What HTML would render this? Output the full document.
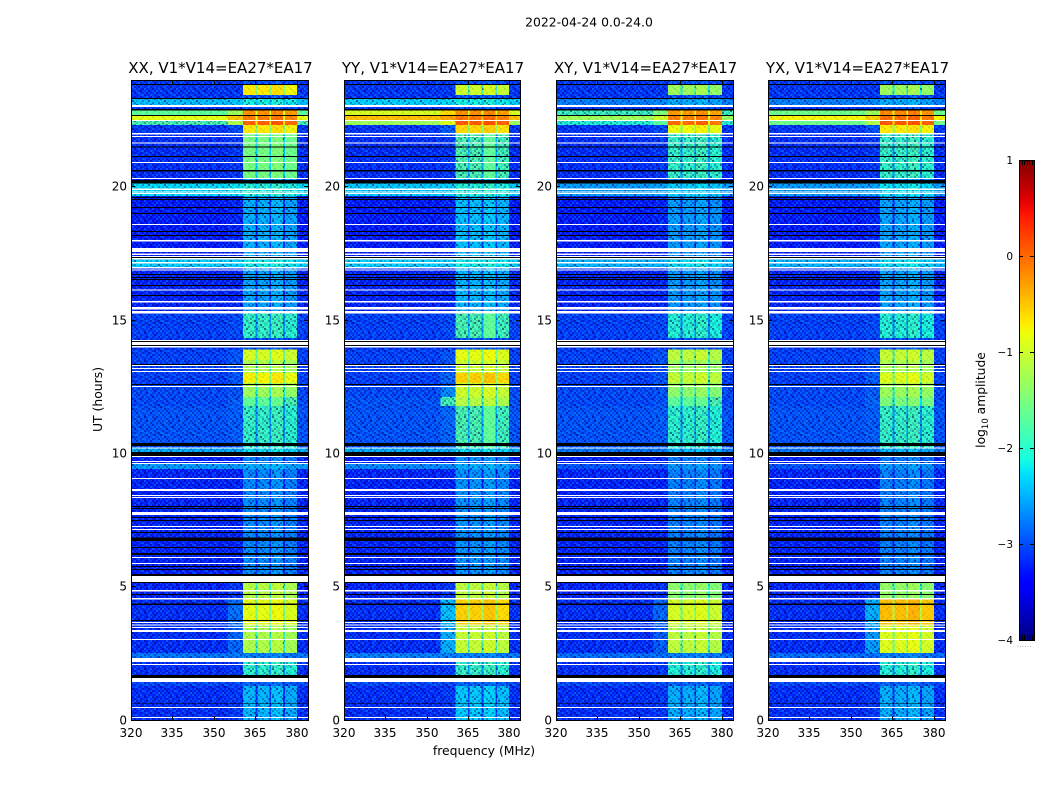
<!DOCTYPE html>
<html lang="en">
<head>
<meta charset="utf-8">
<title>2022-04-24 0.0-24.0 amplitude dynamic spectra</title>
<style>
html,body{margin:0;padding:0;background:#fff;}
svg{display:block;font-family:"DejaVu Sans","Liberation Sans",sans-serif;}
</style>
</head>
<body>
<svg id="figure" xmlns="http://www.w3.org/2000/svg" width="1050" height="800" viewBox="0 0 1050 800">
  <rect x="0" y="0" width="1050" height="800" fill="#ffffff"/>
  <text x="589" y="26.5" font-size="12.4" text-anchor="middle" fill="#000">2022-04-24 0.0-24.0</text>
  <text x="484" y="755" font-size="12.4" text-anchor="middle" fill="#000">frequency (MHz)</text>
  <text transform="translate(102,399.5) rotate(-90)" font-size="12.4" text-anchor="middle" fill="#000">UT (hours)</text>
  <text transform="translate(985,400) rotate(-90)" font-size="12.3" text-anchor="middle" fill="#000">log<tspan font-size="8.5" dy="3">10</tspan><tspan dy="-3"> amplitude</tspan></text>
  <text x="1017" y="647" font-size="6" fill="#666" letter-spacing="0.6">......</text>
</svg>
<script>
// ---------- categories and tick labels ----------
const panelTitles = ["XX, V1*V14=EA27*EA17", "YY, V1*V14=EA27*EA17", "XY, V1*V14=EA27*EA17", "YX, V1*V14=EA27*EA17"];
const freqTicks = [320, 335, 350, 365, 380];
const hourTicks = [0, 5, 10, 15, 20];
const colorTicks = [1, 0, -1, -2, -3, -4];

// ---------- frequency segments (MHz edges and the kind of each segment) ----------
const freqEdges = [320, 355, 360.5, 365, 365.7, 370, 370.7, 375, 375.7, 380, 384];
const freqKinds = ["off", "trans", "on", "gap", "on", "gap", "on", "gap", "on", "off"];
const onBandGain = [0.0, 0.0, 0.06, -0.06];

// ---------- time rows: top edge in hours, and the state active until the next edge ----------
const W = -1, K = -2; // W = flagged (white), K = zero amplitude (black)
const rowTopHours = [
24.00,23.85,23.81,23.44,23.33,23.29,23.06,22.99,22.91,22.86,22.69,22.65,22.50,22.46,22.31,22.01,21.96,21.90,21.86,21.66,
21.62,21.51,21.47,21.15,21.11,20.93,20.89,20.63,20.57,20.33,20.29,20.25,20.12,19.93,19.88,19.82,19.78,19.76,19.73,19.65,
19.61,19.57,19.54,19.50,19.24,19.20,19.01,18.98,18.60,18.56,18.34,18.30,18.19,18.15,18.00,17.94,17.70,17.55,17.49,17.44,
17.40,17.36,17.33,17.27,17.18,17.12,16.99,16.93,16.89,16.86,16.72,16.69,16.61,16.57,16.54,16.50,16.31,16.27,16.14,16.10,
15.94,15.90,15.71,15.66,15.49,15.39,15.34,15.24,14.32,14.25,14.21,14.18,14.06,14.03,13.97,13.89,13.50,13.35,13.31,13.28,
13.20,13.16,13.09,13.05,13.01,12.64,12.60,12.56,12.53,12.49,12.11,11.78,10.39,10.28,10.22,10.18,10.05,9.90,9.86,9.71,
9.67,9.64,9.60,9.41,9.08,9.04,8.66,8.59,8.44,8.40,8.36,8.33,8.03,7.99,7.95,7.91,7.80,7.69,7.61,7.58,
7.50,7.46,7.28,7.24,7.16,7.13,7.05,7.01,6.85,6.71,6.49,6.45,6.26,6.19,6.11,6.08,5.89,5.85,5.78,5.74,
5.66,5.63,5.48,5.40,5.18,5.14,4.88,4.82,4.73,4.69,4.58,4.52,4.37,4.31,3.75,3.71,3.68,3.64,3.58,3.54,
3.49,3.45,3.38,3.30,3.04,3.00,2.51,2.33,2.18,2.10,2.06,1.69,1.58,1.43,1.28,0.64,0.62,0.49,0.45,0.11,
0.08];
const rowStates = [
1,K,0,1,K,2,W,1,K,3,K,4,W,5,6,W,7,W,7,W,
7,K,7,K,7,W,7,K,7,W,9,K,8,W,8,W,8,W,8,9,
K,9,K,9,K,9,K,9,W,9,K,9,K,9,W,9,W,9,W,9,
W,K,W,10,W,10,W,11,W,11,K,11,K,11,K,11,K,11,W,11,
K,11,W,11,W,11,W,12,1,W,K,W,K,W,1,13,14,K,W,14,
W,14,W,14,15,14,K,14,W,16,17,18,K,18,W,19,K,W,21,W,
21,W,20,21,W,21,W,21,W,21,W,21,K,21,K,21,W,21,K,21,
K,21,W,21,W,21,K,21,K,21,K,21,K,21,W,21,W,21,K,21,
K,21,K,W,K,22,W,22,K,22,W,23,K,23,K,23,W,23,W,24,
W,24,W,24,W,24,25,W,26,W,26,K,W,27,28,K,28,W,28,W,
28];

// ---------- log10 amplitude read per state (index = state id in rowStates) ----------
const xxOff   = [-3.15,-3.15,-2.4,-1.7,-0.85,-1.75,-3.15,-3.2,-2.25,-3.3,-2.3,-3.25,-3.1,-3.1,-3.1,-3.1,-3.05,-3.05,-3.0,-2.5,-2.6,-3.25,-3.25,-3.2,-3.2,-2.8,-3.2,-3.05,-3.2];
const yyOff   = [-3.15,-3.15,-2.3,-0.95,-0.45,-1.3,-3.15,-3.2,-2.35,-3.3,-2.3,-3.25,-3.1,-3.1,-3.1,-3.1,-3.05,-3.0,-3.0,-2.5,-2.7,-3.25,-3.25,-3.2,-3.2,-2.75,-3.2,-3.05,-3.2];
const xyOff   = [-3.15,-3.15,-2.75,-1.85,-1.3,-2.0,-3.15,-3.2,-2.6,-3.3,-2.45,-3.25,-3.1,-3.1,-3.1,-3.1,-3.05,-3.05,-3.0,-2.8,-3.0,-3.25,-3.25,-3.2,-3.2,-2.85,-3.2,-3.05,-3.2];
const yxOff   = [-3.15,-3.15,-2.75,-1.6,-0.75,-1.6,-3.15,-3.2,-2.6,-3.3,-2.45,-3.25,-3.1,-3.1,-3.1,-3.1,-3.05,-3.05,-3.0,-2.8,-3.0,-3.25,-3.25,-3.2,-3.2,-2.85,-3.2,-3.05,-3.2];

const xxTrans = [-3.15,-3.15,-2.35,-1.3,-0.5,-1.2,-3.05,-3.15,-2.2,-3.25,-2.3,-3.25,-3.05,-3.0,-3.0,-3.0,-3.0,-2.95,-2.95,-2.5,-2.6,-3.25,-3.15,-2.85,-2.9,-2.8,-3.15,-3.05,-3.15];
const yyTrans = [-3.15,-3.15,-2.25,-0.6,-0.3,-0.9,-2.95,-3.15,-2.3,-3.25,-2.3,-3.25,-3.05,-3.0,-3.0,-2.9,-2.7,-1.8,-2.9,-2.5,-2.7,-3.25,-3.15,-2.4,-2.5,-2.75,-3.15,-3.05,-3.15];
const xyTrans = [-3.15,-3.15,-2.7,-1.5,-1.0,-1.7,-3.05,-3.15,-2.55,-3.25,-2.45,-3.25,-3.05,-3.0,-3.0,-3.0,-3.0,-3.0,-2.95,-2.8,-3.0,-3.25,-3.2,-2.9,-2.95,-2.85,-3.15,-3.05,-3.15];
const yxTrans = [-3.15,-3.15,-2.7,-1.3,-0.55,-1.2,-3.0,-3.15,-2.55,-3.25,-2.45,-3.25,-3.05,-3.0,-3.0,-2.95,-2.95,-2.9,-2.95,-2.8,-3.0,-3.25,-3.15,-2.5,-2.6,-2.85,-3.15,-3.05,-3.15];

const xxOn    = [-0.7,-3.0,-2.1,-0.2,-0.1,0.05,-0.7,-1.55,-2.0,-2.5,-2.1,-2.55,-1.9,-0.95,-1.2,-0.75,-1.3,-1.7,-1.9,-2.2,-2.5,-2.7,-1.15,-0.85,-1.2,-2.75,-1.95,-2.9,-2.45];
const yyOn    = [-1.0,-3.0,-2.1,-0.2,-0.05,0.1,-0.6,-1.75,-2.0,-2.4,-2.1,-2.45,-1.75,-0.85,-1.0,-0.55,-1.0,-1.15,-1.75,-2.2,-2.5,-2.65,-1.1,-0.55,-1.05,-2.75,-1.9,-2.9,-2.35];
const xyOn    = [-1.3,-3.0,-2.5,-0.25,-0.1,0.0,-0.8,-1.9,-2.3,-2.6,-2.2,-2.6,-2.0,-1.1,-1.3,-1.05,-1.4,-1.7,-1.95,-2.4,-2.6,-2.75,-1.4,-0.95,-1.1,-2.75,-2.0,-2.9,-2.5];
const yxOn    = [-1.3,-3.0,-2.5,-0.15,0.0,0.1,-0.7,-1.9,-2.2,-2.55,-2.2,-2.55,-2.0,-1.05,-1.2,-0.9,-1.3,-1.5,-1.9,-2.4,-2.6,-2.75,-1.35,-0.45,-0.9,-2.75,-2.0,-2.9,-2.5];

const panelOff = [xxOff, yyOff, xyOff, yxOff];
const panelTrans = [xxTrans, yyTrans, xyTrans, yxTrans];
const panelOn = [xxOn, yyOn, xyOn, yxOn];

// ---------- receiver noise tile: lighter (+) or darker (-) channel/time bins ----------
const speckleRows = [
[ 2,-1, 0, 3,-2, 1,-1, 2, 0,-3, 1, 2,-1, 0, 2,-2],
[-2, 1, 3,-1, 0,-3, 2, 0,-1, 1, 3,-2, 0, 2,-1, 1],
[ 0,-3, 1, 2,-1, 2, 0,-2, 3,-1, 0, 1,-3, 1, 0, 2],
[ 3, 1,-2, 0, 2,-1,-3, 1, 0, 2,-2, 0, 2,-1, 3,-1],
[-1, 0, 2,-3, 1, 3, 0,-1, 2,-2, 1,-1, 0, 3,-2, 0],
[ 1,-2, 0, 1,-1, 0, 2, 3,-2, 0,-1, 3, 1,-2, 0, 2],
[ 2, 3,-1,-2, 0, 1,-2, 0, 1, 3, 0,-2, 2, 0,-1,-3],
[-3, 0, 1, 2, 3,-1, 0, 2,-1,-2, 2, 1,-1,-3, 2, 0],
[ 0, 2,-3, 0,-1, 2, 1,-2, 0, 1,-3, 0, 3, 1,-1, 2],
[ 1,-1, 2,-2, 1, 0,-1, 3, 2,-1, 0, 2,-2, 0, 1,-2],
[-2, 3, 0, 1,-3, 2, 0,-1, 1, 0, 2,-3, 1, 2, 0, 3],
[ 3,-2, 1, 0, 2,-1, 3, 0,-2, 2,-1, 0, 0,-1, 3,-1],
[ 0, 1,-1, 3, 0,-2, 1, 2,-3, 0, 1, 3,-2, 1,-2, 0],
[-1, 2, 0,-2, 1, 3,-2, 0, 1,-1, 3, 0, 1,-3, 0, 2]
];

// ---------- layout (not data) ----------
const SVGNS = "http://www.w3.org/2000/svg";
const plotTop = 80, plotBottom = 720;
const panelLeft = [131, 344, 556, 768];
const panelRight = [308, 520, 733, 945];
const panelIds = ["xx", "yy", "xy", "yx"];
const freqMin = 320, freqMax = 384, hourMin = 0, hourMax = 24;
const cbarLeft = 1019, cbarWidth = 15, cbarTop = 160, cbarBottom = 640, colorMin = -4, colorMax = 1;
const noisyBelow = -1.7;

function xScale(panel, mhz) { return panelLeft[panel] + (mhz - freqMin) / (freqMax - freqMin) * (panelRight[panel] - panelLeft[panel]); }
function yScale(hour) { return plotBottom - (hour - hourMin) / (hourMax - hourMin) * (plotBottom - plotTop); }
function colorY(v) { return cbarBottom - (v - colorMin) / (colorMax - colorMin) * (cbarBottom - cbarTop); }

function ramp(points, t) {
  for (let i = 1; i < points.length; i++) {
    if (t <= points[i][0]) {
      const a = points[i - 1], b = points[i];
      return a[1] + (b[1] - a[1]) * (t - a[0]) / (b[0] - a[0]);
    }
  }
  return points[points.length - 1][1];
}
const jetR = [[0,0],[0.35,0],[0.66,1],[0.89,1],[1,0.5]];
const jetG = [[0,0],[0.125,0],[0.375,1],[0.64,1],[0.91,0],[1,0]];
const jetB = [[0,0.5],[0.11,1],[0.34,1],[0.65,0],[1,0]];
function jet(v) {
  const t = Math.max(0, Math.min(1, (v - colorMin) / (colorMax - colorMin)));
  return "rgb(" + Math.round(ramp(jetR, t) * 255) + "," + Math.round(ramp(jetG, t) * 255) + "," + Math.round(ramp(jetB, t) * 255) + ")";
}

function make(parent, tag, attrs, text) {
  const el = document.createElementNS(SVGNS, tag);
  for (const k in attrs) el.setAttribute(k, attrs[k]);
  if (text !== undefined) el.textContent = text;
  parent.appendChild(el);
  return el;
}
const root = document.getElementById("figure");
const defs = make(root, "defs", {});

// noise patterns built from speckleRows
const cellPx = 2;
function buildSpeckle(id, lightColor, lightAlpha, darkColor, darkAlpha) {
  const pat = make(defs, "pattern", {
    id: id, patternUnits: "userSpaceOnUse",
    width: speckleRows[0].length * cellPx, height: speckleRows.length * cellPx
  });
  speckleRows.forEach(function (row, r) {
    row.forEach(function (v, c) {
      if (v === 0) return;
      make(pat, "rect", {
        x: c * cellPx, y: r * cellPx, width: cellPx, height: cellPx, "shape-rendering": "crispEdges",
        fill: v > 0 ? lightColor : darkColor,
        opacity: Math.abs(v) * (v > 0 ? lightAlpha : darkAlpha)
      });
    });
  });
}
buildSpeckle("speckle", "#00a8ff", 0.13, "#000060", 0.18);
buildSpeckle("speckle-soft", "#ffff60", 0.03, "#002040", 0.04);

function levelFor(panel, state, kind, band) {
  const off = panelOff[panel][state];
  const on = panelOn[panel][state] + onBandGain[band];
  if (kind === "off") return off;
  if (kind === "trans") return panelTrans[panel][state];
  if (kind === "gap") return Math.max(off, panelOn[panel][state] - 0.75);
  return on;
}
function boxPath(x, y, w, h) {
  return "M" + x.toFixed(2) + " " + y.toFixed(2) + "h" + w.toFixed(2) + "v" + h.toFixed(2) + "h" + (-w).toFixed(2) + "z";
}

// ---------- panels ----------
panelTitles.forEach(function (title, p) {
  const id = panelIds[p];
  const left = panelLeft[p], right = panelRight[p];
  const g = make(root, "g", {});
  
  

  const cells = make(g, "g", { "shape-rendering": "crispEdges" });
  
  

  let strongNoise = "", softNoise = "";
  rowStates.forEach(function (state, r) {
    if (state < 0) return;
    const top = yScale(rowTopHours[r]);
    const bottom = yScale(r + 1 < rowTopHours.length ? rowTopHours[r + 1] : hourMin);
    let band = 0;
    freqKinds.forEach(function (kind, s) {
      const x0 = xScale(p, freqEdges[s]), x1 = xScale(p, freqEdges[s + 1]);
      const level = levelFor(p, state, kind, Math.min(band, onBandGain.length - 1));
      const cell = make(cells, "rect", {
        x: x0.toFixed(2), y: top.toFixed(2),
        width: (x1 - x0).toFixed(2), height: (bottom - top).toFixed(2),
        fill: jet(level)
      });
      
      
      if (level < noisyBelow) strongNoise += boxPath(x0, top, x1 - x0, bottom - top);
      else softNoise += boxPath(x0, top, x1 - x0, bottom - top);
      if (kind === "on") band++;
    });
  });

  const noiseStrong = make(g, "path", { d: strongNoise, fill: "url(#speckle)", "shape-rendering": "crispEdges" });
  
  
  const noiseSoft = make(g, "path", { d: softNoise, fill: "url(#speckle-soft)", "shape-rendering": "crispEdges" });
  
  

  const flags = make(g, "g", { "shape-rendering": "crispEdges" });
  
  
  rowStates.forEach(function (state, r) {
    if (state >= 0) return;
    const top = yScale(rowTopHours[r]);
    const bottom = yScale(r + 1 < rowTopHours.length ? rowTopHours[r + 1] : hourMin);
    const flag = make(flags, "rect", {
      x: left, y: top.toFixed(2), width: right - left, height: (bottom - top).toFixed(2),
      fill: state === W ? "#ffffff" : "#000000"
    });
    
    
  });

  // frame
  const frame = make(g, "rect", {
    x: left + 0.5, y: plotTop + 0.5, width: right - left, height: plotBottom - plotTop,
    fill: "none", stroke: "#000", "stroke-width": 1, "shape-rendering": "crispEdges"
  });
  
  

  const titleEl = make(g, "text", {
    x: (left + right) / 2 + 1, y: 73, "font-size": 15, "text-anchor": "middle", fill: "#000"
  }, title);
  
  

  // x ticks
  freqTicks.forEach(function (f) {
    const x = Math.round(xScale(p, f)) + 0.5;
    const tick = make(g, "path", {
      d: "M" + x + " " + plotBottom + "v-4M" + x + " " + plotTop + "v4",
      stroke: "#000", "stroke-width": 1, fill: "none", "shape-rendering": "crispEdges"
    });
    
    
    const label = make(g, "text", { x: x - 0.5, y: 737, "font-size": 12, "text-anchor": "middle", fill: "#000" }, String(f));
    
    
  });

  // y ticks
  hourTicks.forEach(function (h) {
    const y = Math.floor(yScale(h)) + 0.5;
    const tick = make(g, "path", {
      d: "M" + left + " " + y + "h4M" + right + " " + y + "h-4",
      stroke: "#000", "stroke-width": 1, fill: "none", "shape-rendering": "crispEdges"
    });
    
    
    const label = make(g, "text", { x: left - 4, y: y + 4, "font-size": 12, "text-anchor": "end", fill: "#000" }, String(h));
    
    
  });
});

// ---------- colorbar ----------
const grad = make(defs, "linearGradient", { id: "jet-gradient", x1: 0, y1: 1, x2: 0, y2: 0 });
for (let i = 0; i <= 50; i++) {
  make(grad, "stop", { offset: (i / 50), "stop-color": jet(colorMin + (colorMax - colorMin) * i / 50) });
}
const cbar = make(root, "g", {});



const cbarFill = make(cbar, "rect", { x: cbarLeft, y: cbarTop, width: cbarWidth, height: cbarBottom - cbarTop, fill: "url(#jet-gradient)" });



const cbarFrame = make(cbar, "rect", {
  x: cbarLeft + 0.5, y: cbarTop + 0.5, width: cbarWidth, height: cbarBottom - cbarTop,
  fill: "none", stroke: "#000", "stroke-width": 1, "shape-rendering": "crispEdges"
});



colorTicks.forEach(function (v) {
  const y = Math.round(colorY(v)) + 0.5;
  const tick = make(cbar, "path", {
    d: "M" + cbarLeft + " " + y + "h4M" + (cbarLeft + cbarWidth) + " " + y + "h-4",
    stroke: "#000", "stroke-width": 1, fill: "none", "shape-rendering": "crispEdges"
  });
  
  
  const label = make(cbar, "text", { x: cbarLeft - 6, y: y + 3.5, "font-size": 10.5, "text-anchor": "end", fill: "#000" },
    v < 0 ? "\u2212" + Math.abs(v) : String(v));
  
  
});
for (let i = 1; i <= 5; i++) {
  const x = cbarLeft + Math.round(i * cbarWidth / 6) + 0.5;
  const edgeTick = make(cbar, "path", {
    d: "M" + x + " " + cbarTop + "v5M" + x + " " + cbarBottom + "v-5",
    stroke: "#000", "stroke-width": 1, fill: "none", "shape-rendering": "crispEdges"
  });
  
  
}
</script>
</body>
</html>
